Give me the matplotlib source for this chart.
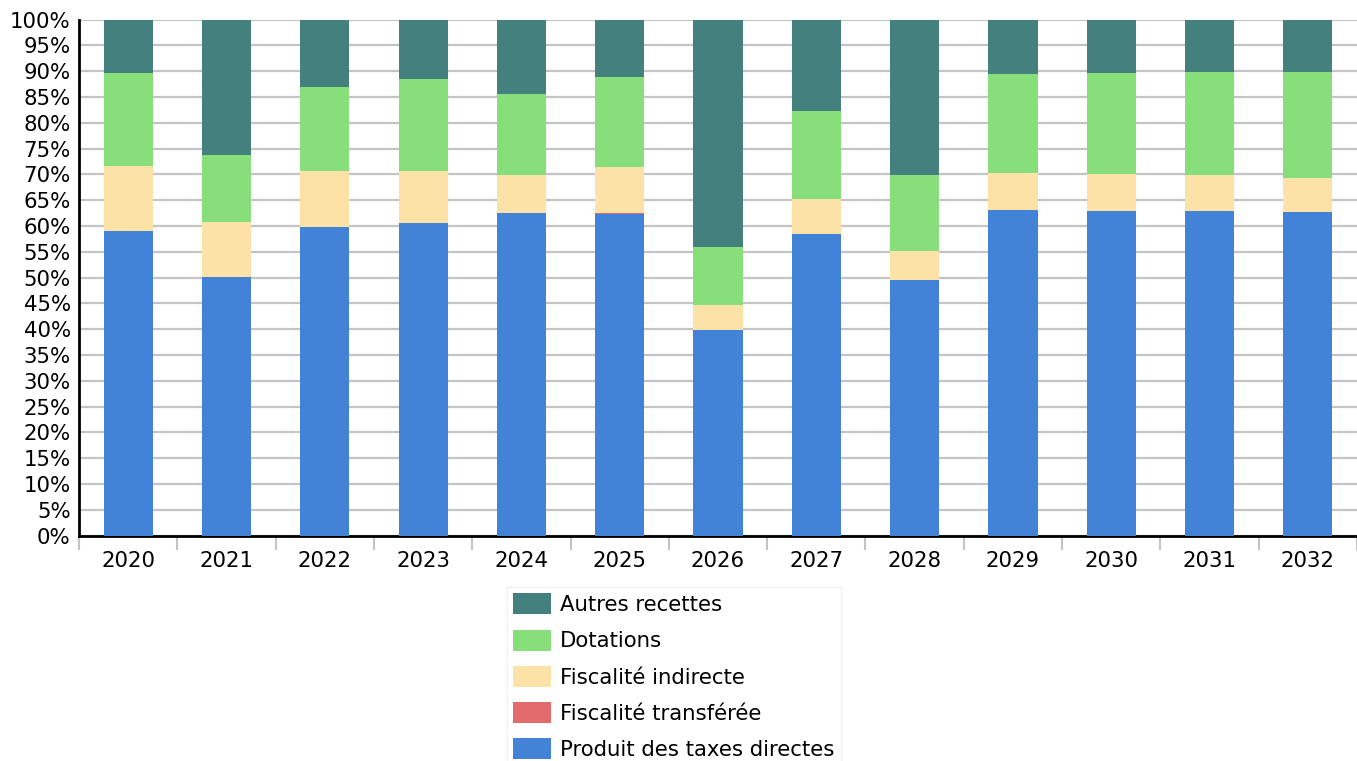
import matplotlib.pyplot as plt
import numpy as np

# Data (percent of total receipts)
years = ['2020', '2021', '2022', '2023', '2024', '2025', '2026',
         '2027', '2028', '2029', '2030', '2031', '2032']
produit_taxes = [59.0, 50.2, 59.9, 60.6, 62.5, 62.3, 39.8, 58.5, 49.5, 63.2, 63.0, 62.9, 62.8]
fisc_transferee = [0.0, 0.0, 0.0, 0.0, 0.0, 0.2, 0.0, 0.0, 0.0, 0.0, 0.0, 0.0, 0.0]
fisc_indirecte = [12.7, 10.6, 10.7, 10.0, 7.3, 9.0, 4.8, 6.7, 5.7, 7.1, 7.1, 6.9, 6.6]
dotations = [18.0, 13.0, 16.4, 17.9, 15.7, 17.3, 11.3, 17.1, 14.7, 19.2, 19.5, 20.0, 20.5]
autres = [10.3, 26.2, 13.0, 11.5, 14.5, 11.2, 44.1, 17.7, 30.1, 10.5, 10.4, 10.2, 10.1]

series = [
    ('Produit des taxes directes', produit_taxes, '#4283d7'),
    ('Fiscalité transférée', fisc_transferee, '#e36b6b'),
    ('Fiscalité indirecte', fisc_indirecte, '#fce2a6'),
    ('Dotations', dotations, '#88de7b'),
    ('Autres recettes', autres, '#43807e'),
]

fig = plt.figure(figsize=(13.57, 7.61), dpi=100)
ax = fig.add_axes([79/1357, (761-535.5)/761, (1357-79)/1357, (535.5-19.7)/761])

x = np.arange(len(years))
bottom = np.zeros(len(years))
handles = []
for name, vals, col in series:
    vals = np.array(vals)
    b = ax.bar(x, vals, width=0.5, bottom=bottom, color=col, label=name, zorder=3)
    handles.append(b)
    bottom += vals

ax.set_xlim(-0.5, len(years) - 0.5)
ax.set_ylim(0, 100)
ax.set_yticks(np.arange(0, 101, 5))
ax.set_yticklabels([f'{v}%' for v in range(0, 101, 5)])
ax.yaxis.grid(True, color='#c4c4c4', linewidth=1.6, zorder=0)
ax.set_axisbelow(True)

ax.set_xticks(x)
ax.set_xticklabels(years)
ax.set_xticks(np.arange(-0.5, len(years), 1), minor=True)
ax.tick_params(axis='x', which='major', length=0, pad=11, labelsize=15.3)
ax.tick_params(axis='x', which='minor', length=10, width=1.5, color='#c4c4c4')
ax.tick_params(axis='y', length=0, pad=6, labelsize=15.3)

for s in ['top', 'right']:
    ax.spines[s].set_visible(False)
ax.spines['left'].set_linewidth(2)
ax.spines['bottom'].set_linewidth(2)

leg = fig.legend(handles[::-1], [s[0] for s in series][::-1],
                 loc='upper left', bbox_to_anchor=(507/1357, 1 - 587/761),
                 borderaxespad=0, fontsize=15.3, frameon=True, fancybox=False,
                 handlelength=1.75, handleheight=1.15, handletextpad=0.45,
                 labelspacing=0.68, borderpad=0.3)
leg.get_frame().set_edgecolor('#eeeeee')
leg.get_frame().set_linewidth(1)

fig.savefig('out.png', dpi=100)
